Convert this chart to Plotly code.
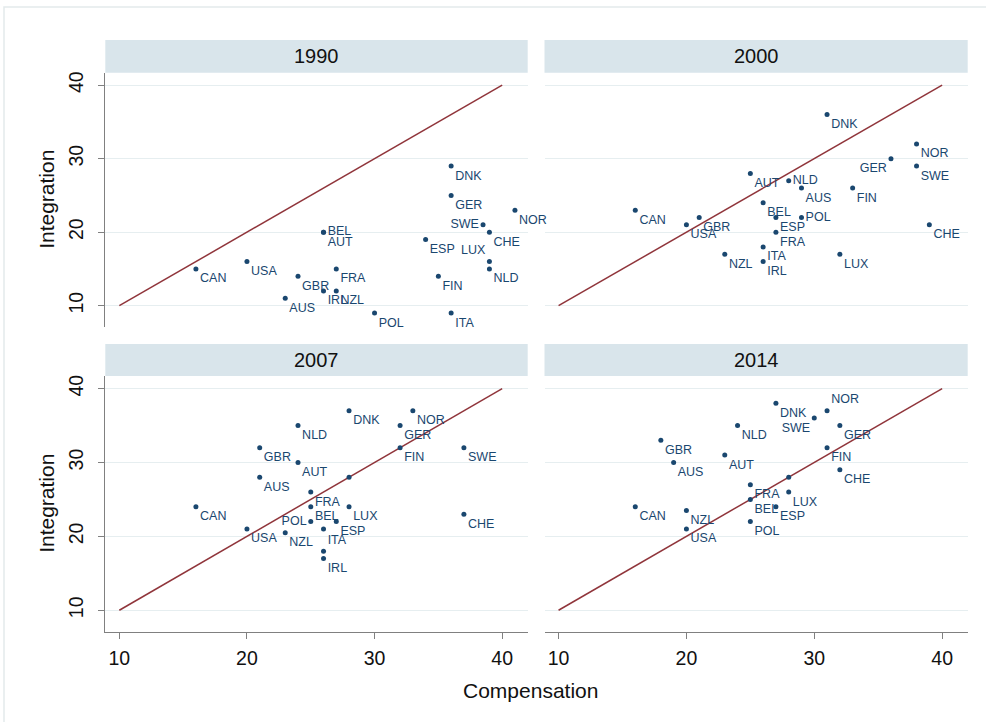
import plotly.graph_objects as go

# ---------------- data ----------------
years = ["1990", "2000", "2007", "2014"]

c1990 = ["CAN", "USA", "GBR", "AUS", "IRL", "NZL", "FRA", "BEL", "AUT", "POL",
         "ITA", "FIN", "ESP", "DNK", "GER", "SWE", "CHE", "LUX", "NLD", "NOR"]
x1990 = [16, 20, 24, 23, 26, 27, 27, 26, 26, 30, 36, 35, 34, 36, 36, 38.5, 39, 39, 39, 41]
y1990 = [15, 16, 14, 11, 12, 12, 15, 20, 20, 9, 9, 14, 19, 29, 25, 21, 20, 16, 15, 23]

c2000 = ["DNK", "NOR", "SWE", "GER", "AUT", "NLD", "AUS", "FIN", "CAN", "BEL",
         "ESP", "POL", "GBR", "USA", "FRA", "CHE", "ITA", "NZL", "IRL", "LUX"]
x2000 = [31, 38, 38, 36, 25, 28, 29, 33, 16, 26, 27, 29, 21, 20, 27, 39, 26, 23, 26, 32]
y2000 = [36, 32, 29, 30, 28, 27, 26, 26, 23, 24, 22, 22, 22, 21, 20, 21, 18, 17, 16, 17]

c2007 = ["DNK", "NOR", "NLD", "GER", "GBR", "FIN", "SWE", "AUT", "AUS", "",
         "FRA", "BEL", "LUX", "POL", "ESP", "", "CAN", "USA", "NZL", "CHE", "ITA", "IRL"]
x2007 = [28, 33, 24, 32, 21, 32, 37, 24, 21, 28, 25, 25, 28, 25, 27, 26, 16, 20, 23, 37, 26, 26]
y2007 = [37, 37, 35, 35, 32, 32, 32, 30, 28, 28, 26, 24, 24, 22, 22, 21, 24, 21, 20.5, 23, 18, 17]

c2014 = ["DNK", "NOR", "SWE", "NLD", "GER", "GBR", "FIN", "AUT", "AUS", "CHE",
         "", "FRA", "LUX", "BEL", "ESP", "CAN", "NZL", "USA", "POL"]
x2014 = [27, 31, 30, 24, 32, 18, 31, 23, 19, 32, 28, 25, 28, 25, 27, 16, 20, 20, 25]
y2014 = [38, 37, 36, 35, 35, 33, 32, 31, 30, 29, 28, 27, 26, 25, 24, 24, 23.5, 21, 22]

diag = [10, 40]            # 45-degree reference line
yticks = [10, 20, 30, 40]
xticks = [10, 20, 30, 40]

# label placement (style, kept apart from the data)
label_pos = {
    "1990": {"BEL": "middle right", "SWE": "middle left", "LUX": "top left"},
    "2000": {"GER": "bottom left", "NLD": "middle right", "POL": "middle right"},
    "2007": {"POL": "middle left", "ITA": "top right"},
    "2014": {"NOR": "top right", "SWE": "bottom left"},
}

panels = [
    ("1990", c1990, x1990, y1990),
    ("2000", c2000, x2000, y2000),
    ("2007", c2007, x2007, y2007),
    ("2014", c2014, x2014, y2014),
]

# ---------------- layout geometry ----------------
W, H = 986, 722
FONT = "Liberation Sans, Arial, sans-serif"
NAVY = "#1a476f"
MAROON = "#90353b"
GRID = "#e6eef0"
AXIS = "#808080"
STRIP = "#d9e5eb"

xdom = [[105.3 / W, 527.7 / W], [544.5 / W, 967.7 / W]]
ydom_top = [1 - 327 / H, 1 - 72.7 / H]
ydom_bot = [1 - 631.7 / H, 1 - 376 / H]
strip_top = [1 - 72.7 / H, 1 - 40 / H]
strip_bot = [1 - 376 / H, 1 - 344 / H]

xr = [8.9, 42.0]
yr = [7.1, 41.7]

fig = go.Figure()

for i, (yr_name, cs, xs, ys) in enumerate(panels):
    ax = "" if i == 0 else str(i + 1)
    pos = [label_pos[yr_name].get(c, "bottom right") for c in cs]
    fig.add_trace(go.Scatter(
        x=diag, y=diag, mode="lines",
        line=dict(color=MAROON, width=1.5),
        xaxis="x" + ax, yaxis="y" + ax, hoverinfo="skip", showlegend=False))
    fig.add_trace(go.Scatter(
        x=xs, y=ys, mode="markers+text", text=cs, textposition=pos,
        textfont=dict(family=FONT, size=12.5, color=NAVY),
        marker=dict(color=NAVY, size=5), cliponaxis=False,
        xaxis="x" + ax, yaxis="y" + ax, hoverinfo="skip", showlegend=False))

layout = dict(
    width=W, height=H,
    margin=dict(l=0, r=0, t=0, b=0),
    paper_bgcolor="white", plot_bgcolor="white",
    font=dict(family=FONT, color="#111"),
    showlegend=False,
)

for i in range(4):
    ax = "" if i == 0 else str(i + 1)
    col = i % 2
    row = i // 2
    bottom = row == 1
    left = col == 0
    layout["xaxis" + ax] = dict(
        domain=xdom[col], range=xr, anchor="y" + ax,
        showgrid=False, zeroline=False,
        showline=bottom, linecolor=AXIS, linewidth=1.2,
        ticks="outside" if bottom else "", ticklen=6, tickcolor=AXIS,
        tickvals=xticks, showticklabels=bottom, ticklabelstandoff=3,
        tickfont=dict(family=FONT, size=19.5, color="#111"),
    )
    layout["yaxis" + ax] = dict(
        domain=ydom_bot if bottom else ydom_top, range=yr, anchor="x" + ax,
        showgrid=True, gridcolor=GRID, gridwidth=1.2, zeroline=False,
        showline=left, linecolor=AXIS, linewidth=1.2,
        ticks="outside" if left else "", ticklen=6, tickcolor=AXIS,
        tickvals=yticks, showticklabels=left, tickangle=-90, ticklabelstandoff=7,
        tickfont=dict(family=FONT, size=19.5, color="#111"),
    )

shapes = []
annotations = []
for i, name in enumerate(years):
    col = i % 2
    row = i // 2
    sy = strip_bot if row == 1 else strip_top
    shapes.append(dict(type="rect", xref="paper", yref="paper",
                       x0=xdom[col][0], x1=xdom[col][1], y0=sy[0], y1=sy[1],
                       fillcolor=STRIP, line=dict(width=0), layer="below"))
    annotations.append(dict(text=name, xref="paper", yref="paper",
                            x=(xdom[col][0] + xdom[col][1]) / 2, y=(sy[0] + sy[1]) / 2,
                            xanchor="center", yanchor="middle", showarrow=False,
                            font=dict(family=FONT, size=20, color="#111")))

# outer frame of the graph region
shapes.append(dict(type="rect", xref="paper", yref="paper",
                   x0=4 / W, x1=1.01, y0=-0.02, y1=1 - 7 / H,
                   line=dict(color="#e3eaec", width=1.5), fillcolor="rgba(0,0,0,0)",
                   layer="below"))

for row, dom in enumerate([ydom_top, ydom_bot]):
    annotations.append(dict(text="Integration", xref="paper", yref="paper",
                            x=47 / W, y=(dom[0] + dom[1]) / 2, textangle=-90,
                            xanchor="center", yanchor="middle", showarrow=False,
                            font=dict(family=FONT, size=21, color="#111")))

annotations.append(dict(text="Compensation", xref="paper", yref="paper",
                        x=530 / W, y=1 - 690 / H, xanchor="center", yanchor="middle",
                        showarrow=False, font=dict(family=FONT, size=21, color="#111")))

layout["shapes"] = shapes
layout["annotations"] = annotations
fig.update_layout(**layout)

fig.write_html("out.html")
